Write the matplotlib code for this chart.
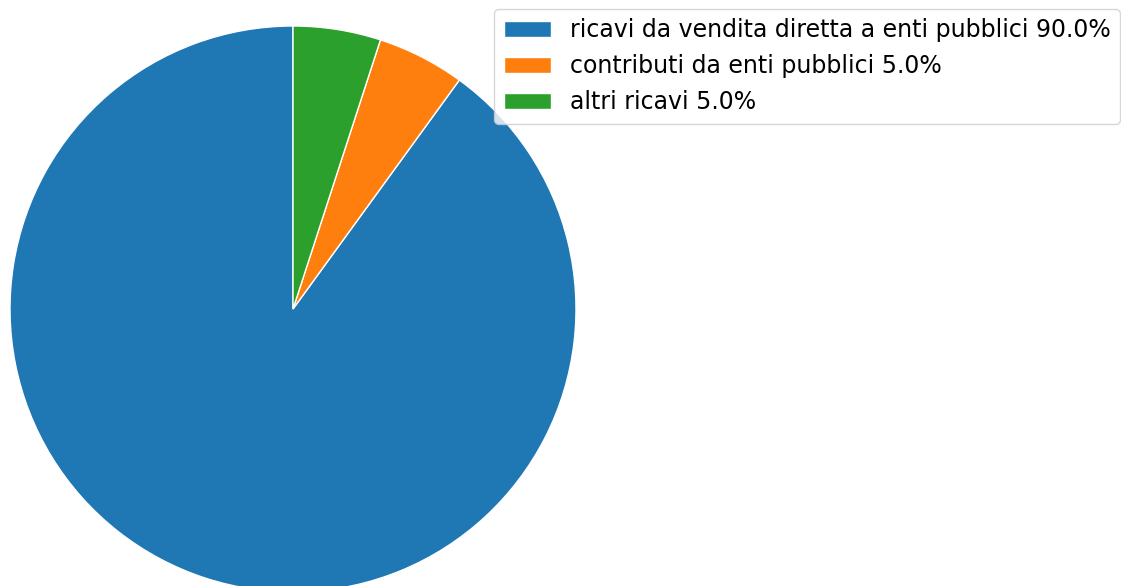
import matplotlib
matplotlib.use("Agg")
import matplotlib.pyplot as plt

labels = ['ricavi da vendita diretta a enti pubblici', 'contributi da enti pubblici', 'altri ricavi']
values = [90.0, 5.0, 5.0]
colors = ['#1f77b4', '#ff7f0e', '#2ca02c']

W, H = 1121, 586
fig = plt.figure(figsize=(W / 100, H / 100), dpi=100)

# pie center ~ (293, 309) px, radius ~ 283 px
cx, cy, r = 293, 309, 283
ax = fig.add_axes([(cx - r) / W, (H - cy - r) / H, 2 * r / W, 2 * r / H])
wedges, _ = ax.pie(values, colors=colors, startangle=90,
                   wedgeprops={'edgecolor': 'white', 'linewidth': 1})
ax.set_xlim(-1, 1)
ax.set_ylim(-1, 1)
ax.set_aspect('equal')
ax.axis('off')

legend_labels = [f'{l} {v:.1f}%' for l, v in zip(labels, values)]
fig.legend(wedges, legend_labels, loc='upper right',
           bbox_to_anchor=(1120 / W, 1 - 9 / H), borderaxespad=0,
           fontsize=17)

fig.savefig('out.png', dpi=100)
